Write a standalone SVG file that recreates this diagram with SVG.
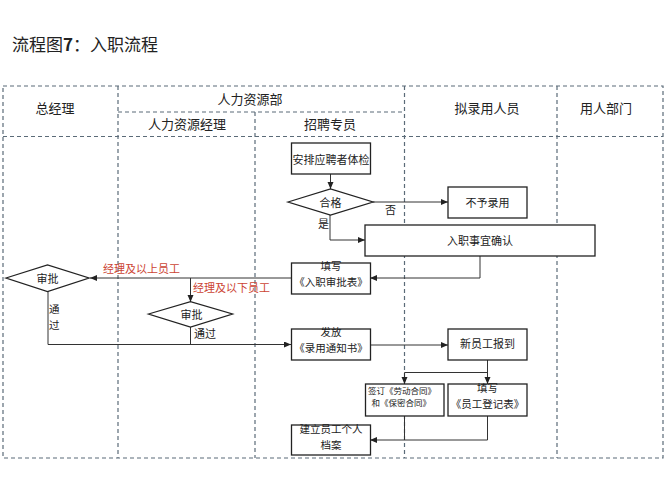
<svg xmlns="http://www.w3.org/2000/svg" width="667" height="500" viewBox="0 0 667 500">
<defs>
<marker id="ah" markerUnits="userSpaceOnUse" markerWidth="8" markerHeight="7" refX="7" refY="3" orient="auto">
<path d="M0,0 L7,3 L0,6 z" fill="#222"/>
</marker>
<style>
text{font-family:"Noto Sans CJK SC","Liberation Serif",serif;fill:#222;text-anchor:middle;dominant-baseline:central}
.hd{font-size:13px}
.t{font-size:11px}
.t2{font-size:10.5px}
.s{font-size:8.5px;text-anchor:start}
.red{fill:#cc4433;font-size:11px;text-anchor:start}
.lb{font-size:11px;text-anchor:start}
.lb2{font-size:10.5px;text-anchor:start}
.grid line,.grid rect{stroke:#5b6b78;stroke-width:1.2;stroke-dasharray:4 3;fill:none}
.box{fill:#fff;stroke:#222;stroke-width:1.3}
.conn polyline,.conn line{fill:none;stroke:#333;stroke-width:1}
</style>
</defs>
<rect width="667" height="500" fill="#fff"/>
<text x="12" y="43" style="font-size:17px;text-anchor:start">流程图<tspan font-weight="bold">7</tspan>：入职流程</text>
<g class="grid">
<rect x="3" y="86" width="660" height="372"/>
<line x1="3" y1="136.5" x2="663" y2="136.5"/>
<line x1="118" y1="112" x2="404.5" y2="112"/>
<line x1="118" y1="86" x2="118" y2="458"/>
<line x1="255" y1="112" x2="255" y2="458"/>
<line x1="404.5" y1="86" x2="404.5" y2="458"/>
<line x1="557" y1="86" x2="557" y2="458"/>
</g>
<g id="headers">
<text class="hd" x="55" y="107">总经理</text>
<text class="hd" x="250" y="98">人力资源部</text>
<text class="hd" x="187" y="123">人力资源经理</text>
<text class="hd" x="330" y="123">招聘专员</text>
<text class="hd" x="487" y="107">拟录用人员</text>
<text class="hd" x="606" y="107">用人部门</text>
</g>
<g class="conn">
<line x1="330.5" y1="174" x2="330.5" y2="189" marker-end="url(#ah)"/>
<line x1="373" y1="202" x2="448" y2="202" marker-end="url(#ah)"/>
<polyline points="330,215 330,240 365,240" marker-end="url(#ah)"/>
<polyline points="480,256 480,278 370,278" marker-end="url(#ah)"/>
<line x1="291" y1="278" x2="90" y2="278" marker-end="url(#ah)"/>
<line x1="190.5" y1="278" x2="190.5" y2="302" marker-end="url(#ah)"/>
<polyline points="48,291 48,344.5 291,344.5" marker-end="url(#ah)"/>
<line x1="190.5" y1="327" x2="190.5" y2="344.5"/>
<line x1="370" y1="345" x2="448" y2="345" marker-end="url(#ah)"/>
<line x1="487.5" y1="360" x2="487.5" y2="384" marker-end="url(#ah)"/>
<polyline points="487.5,372.5 404.5,372.5 404.5,384" marker-end="url(#ah)"/>
<line x1="404.5" y1="416" x2="404.5" y2="440"/>
<polyline points="487.5,416 487.5,440 370,440" marker-end="url(#ah)"/>
</g>
<g id="n_tijian"><rect class="box" x="291.5" y="143" width="79" height="31"/><text class="t" x="331" y="158.5">安排应聘者体检</text></g>
<g id="n_hege"><polygon class="box" points="288,202 330.5,189 373,202 330.5,215"/><text class="t" x="330.5" y="201.5">合格</text></g>
<g id="n_buyu"><rect class="box" x="448" y="187" width="79" height="31"/><text class="t" x="487.5" y="202">不予录用</text></g>
<g id="n_queren"><rect class="box" x="365" y="225" width="230" height="31"/><text class="t" x="480" y="240">入职事宜确认</text></g>
<g id="n_shenpibiao"><rect class="box" x="291.5" y="263" width="79" height="31"/><text class="t2" x="331" y="265.5">填写</text><text class="t2" x="331" y="281.5">《入职审批表》</text></g>
<g id="n_shenpi1"><polygon class="box" points="6,278 47.5,265 89,278 47.5,291.5"/><text class="t" x="47.5" y="277.5">审批</text></g>
<g id="n_shenpi2"><polygon class="box" points="148.5,314 190.5,301.7 232.5,314 190.5,327"/><text class="t" x="191.5" y="314">审批</text></g>
<g id="n_fafang"><rect class="box" x="291.5" y="329" width="79" height="31"/><text class="t2" x="331" y="331.5">发放</text><text class="t2" x="331" y="347.5">《录用通知书》</text></g>
<g id="n_baodao"><rect class="box" x="448" y="329" width="79" height="31"/><text class="t" x="487.5" y="343">新员工报到</text></g>
<g id="n_qianding"><rect class="box" x="365.5" y="384" width="78.5" height="32"/><text class="s" x="368" y="389.5">签订《劳动合同》</text><text class="s" x="371.5" y="402">和《保密合同》</text></g>
<g id="n_dengji"><rect class="box" x="448" y="384" width="79" height="32"/><text class="t2" x="487.5" y="387">填写</text><text class="t2" x="487.5" y="403">《员工登记表》</text></g>
<g id="n_dangan"><rect class="box" x="291.5" y="425" width="79" height="30"/><text class="t2" x="331" y="428">建立员工个人</text><text class="t2" x="331" y="444">档案</text></g>
<g id="labels">
<text class="lb" x="385" y="209">否</text>
<text class="lb" x="318" y="223">是</text>
<text class="red" x="103" y="268">经理及以上员工</text>
<text class="red" x="193" y="287">经理及以下员工</text>
<text class="lb" x="194" y="333">通过</text>
<text class="lb2" x="49" y="308.5">通</text>
<text class="lb2" x="49" y="324.5">过</text>
</g>
</svg>
